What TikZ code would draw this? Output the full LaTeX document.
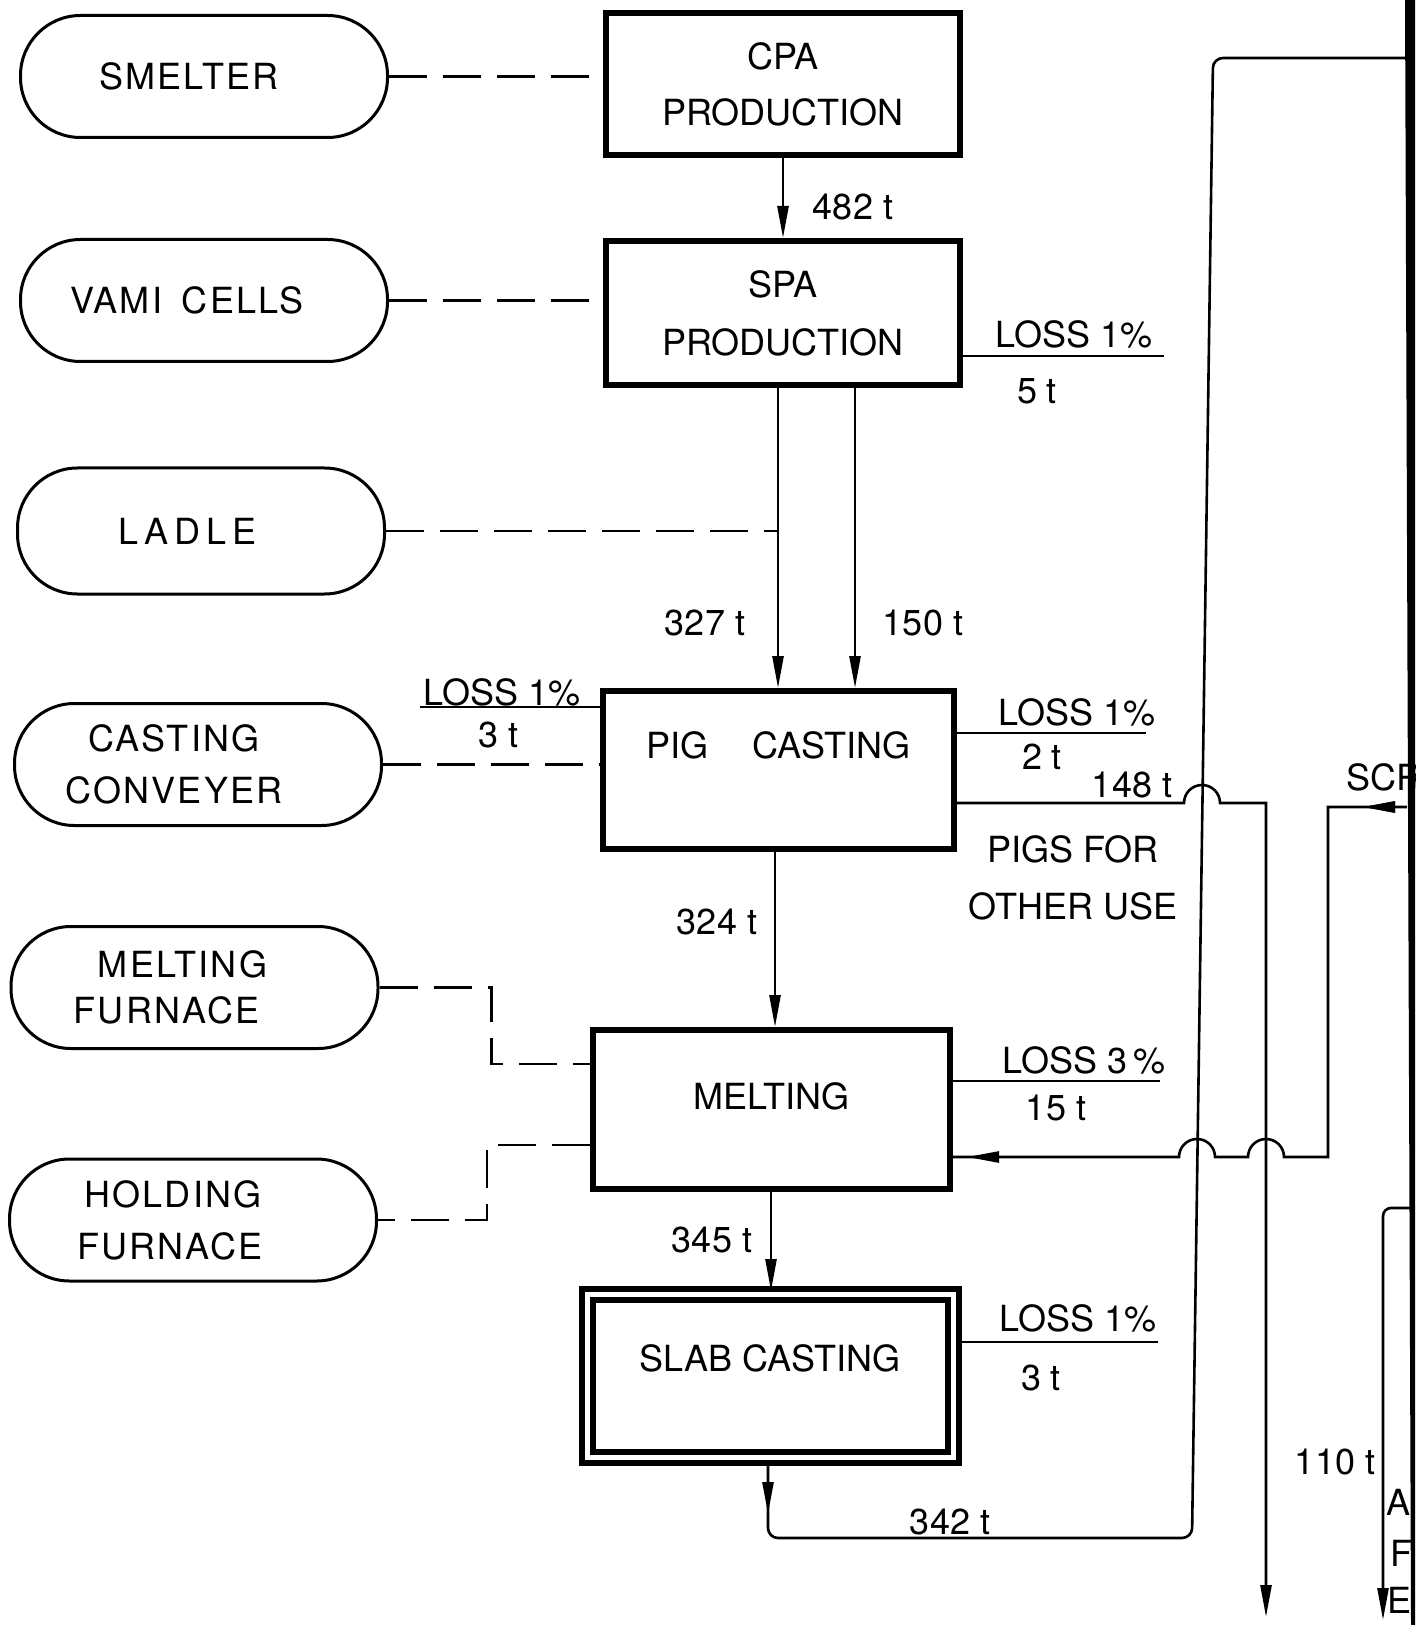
\documentclass[tikz,border=0pt]{standalone}
\usepackage{fontspec}
\setmainfont{TeX Gyre Heros}
\usetikzlibrary{arrows.meta,decorations.markings}
\newcommand\lbl{\fontsize{18}{26}\selectfont}
\newcommand\shl[2]{\makebox[0pt]{\hspace*{-#1}#2}}
\begin{document}
\begin{tikzpicture}[x=0.5pt,y=-0.5pt,
  every node/.style={font=\lbl, inner sep=0pt},
  proc/.style 2 args={draw, line width=3pt, minimum width=#1, minimum height=#2, align=center},
  term/.style={draw, line width=1.5pt, rounded corners=30pt, minimum width=183.5pt, minimum height=61pt, align=center, font={\lbl\addfontfeature{LetterSpace=6}}},
  dsh/.style={line width=1.4pt, dash pattern=on 19pt off 8pt},
  tip/.style={-{Triangle[length=16pt,width=5.5pt]}},
  flow/.style={line width=1.3pt, tip},
  conn/.style={line width=1.3pt},
  lossline/.style={line width=1.1pt},
  midarrow/.style={postaction={decorate}, decoration={markings, mark=at position #1 with {\arrow{Triangle[length=16pt,width=5.5pt]}}}}
]
\useasboundingbox (0,0) rectangle (1415,1625);

% process boxes
\node[proc={177pt}{71pt}] (cpa) at (783,84) {CPA\\[2pt]PRODUCTION};
\node[proc={177pt}{72pt}] (spa) at (783,313) {SPA\\[3pt]PRODUCTION};
\node[proc={175.5pt}{79pt}] (pig) at (778.5,770) {\raisebox{6pt}[0pt][0pt]{PIG\hspace{22pt}CASTING}};
\node[proc={178.5pt}{79.5pt}] (melt) at (771.5,1109.5) {\raisebox{0pt}[0pt][0pt]{MELTING}};
\node[draw, line width=3pt, double, double distance=2.5pt, minimum width=183pt, minimum height=81.5pt] (slab) at (770,1375.5) {\raisebox{2.25pt}[0pt][0pt]{SLAB CASTING}};

% terminals
\node[term] (smelter) at (204,76.5) {\shl{15pt}{SMELTER}};
\node[term] (vami) at (204,300.5) {\shl{17pt}{VAMI\hspace{10pt}CELLS}};
\node[term, minimum height=63pt] (ladle) at (201,531) {\shl{13pt}{L\,A\,D\,L\,E}};
\node[term] (conv) at (198,764.5) {\shl{24pt}{CASTING}\\\shl{24pt}{CONVEYER}};
\node[term] (mf) at (194.5,987.5) {\shl{12pt}{MELTING}\\[-3pt]\shl{28pt}{FURNACE}};
\node[term] (hf) at (193,1220) {\shl{20pt}{HOLDING}\\\shl{23pt}{FURNACE}};

% helper coordinates
\coordinate (c327) at (778,0);
\coordinate (c150) at (855,0);
\coordinate (c324) at (775,0);
\coordinate (c345) at (771,0);
\coordinate (c342) at (768,0);

% dashed links
\draw[dsh] (smelter.east) -- (smelter.east -| cpa.west);
\draw[dsh] (vami.east) -- (vami.east -| spa.west);
\draw[dsh] (ladle.east) -- (ladle.east -| c327);
\draw[dsh] (conv.east) -- (conv.east -| pig.west);
\draw[dsh] (mf.east) -- ++(112,0) |- ([yshift=22.75pt]melt.west);
\draw[dsh] ([yshift=-17.75pt]melt.west) -- ++(-103,0) |- (hf.east);

% main flow
\draw[flow] (cpa.south) -- (spa.north);
\draw[flow] (spa.south -| c327) -- (pig.north -| c327);
\draw[flow] (spa.south -| c150) -- (pig.north -| c150);
\draw[flow] (pig.south -| c324) -- (melt.north -| c324);
\draw[flow] (melt.south -| c345) -- (slab.north -| c345);

% slab output route (342 t)
\coordinate (barTop) at (1406,58);
\draw[conn, rounded corners=5pt, midarrow=27pt] (slab.south -| c342) -- (768,1538) -- (1192,1538) -- (1213,58) -- (barTop);

% pigs for other use (148 t)
\coordinate (e148) at (1266,1617);
\draw[flow] ([yshift=-16.5pt]pig.east) -- (1184,803) arc[start angle=180, end angle=0, radius=9pt] -- (1266,803) -- (e148);

% scrap return
\coordinate (scrS) at (1407,807);
\draw[conn, midarrow=22pt, postaction={decorate, decoration={markings, mark=at position -7pt with {\arrow{Triangle[length=16pt,width=5.5pt]}}}}]
  (scrS) -- (1328,807) -- (1328,1157) -- (1284,1157) arc[start angle=0, end angle=180, radius=9pt]
  -- (1215,1157) arc[start angle=0, end angle=180, radius=9pt] -- ([yshift=-23.75pt]melt.east);

% 110 t route
\coordinate (s110) at (1411,1208);
\coordinate (e110) at (1383,1620);
\draw[flow, rounded corners=4pt] (s110) -- (1383,1208) -- (e110);

% loss lines
\draw[lossline] ([yshift=-21.5pt]spa.east) -- ++(201,0);
\draw[lossline] ([yshift=31.5pt]pig.west) -- ++(-180,0);
\draw[lossline] ([yshift=18.5pt]pig.east) -- ++(189,0);
\draw[lossline] ([yshift=14.25pt]melt.east) -- ++(207,0);
\draw[lossline] ([yshift=16.75pt]slab.east) -- ++(202,0);

% labels
\node (t482) at (853,207) {482 t};
\node (l1a) at (1074,334) {LOSS 1\%};
\node (t5) at (1037,391) {5 t};
\node (t327) at (705,623) {327 t};
\node (t150) at (923,623) {150 t};
\node (l1b) at (502,692) {LOSS 1\%};
\node (t3a) at (499,735) {3 t};
\node (l1c) at (1077,712) {LOSS 1\%};
\node (t2) at (1042,757) {2 t};
\node (t148) at (1132,785) {148 t};
\node[align=center] (pigs) at (1073,878) {PIGS FOR\\[2.5pt]OTHER USE};
\node (t324) at (717,922) {324 t};
\node (l3) at (1084,1060) {LOSS 3\,\%};
\node (t15) at (1056,1108) {15 t};
\node (t345) at (712,1240) {345 t};
\node (l1d) at (1078,1318) {LOSS 1\%};
\node (t3b) at (1041,1378) {3 t};
\node (t342) at (950,1522) {342 t};
\node (t110) at (1335,1462) {110 t};
\node[anchor=west] (scr) at (1346,777) {SCR};
\node (la) at (1398,1502) {A};
\node (lf) at (1401,1553) {F};
\node (le) at (1399,1600) {E};

% page edge bar
\fill (1405,0) -- (1415,0) -- (1415,1625) -- (1411,1625) -- cycle;
\end{tikzpicture}
\end{document}
